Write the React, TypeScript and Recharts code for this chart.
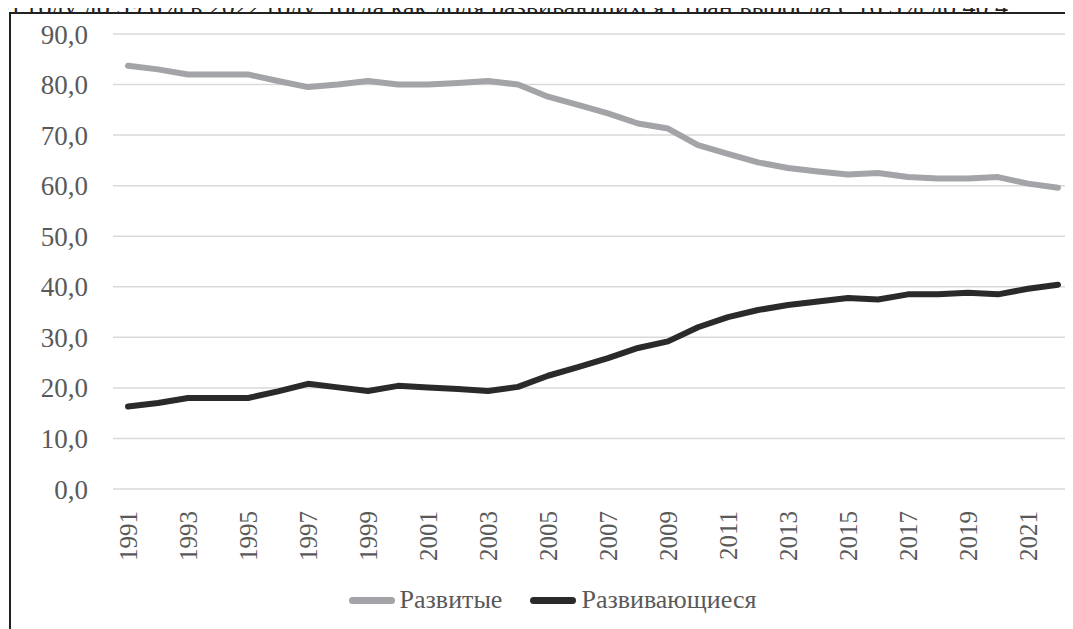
import { LineChart, Line, XAxis, YAxis, CartesianGrid, Legend } from 'recharts'

const years = [
  '1991', '1992', '1993', '1994', '1995', '1996', '1997', '1998', '1999', '2000', '2001',
  '2002', '2003', '2004', '2005', '2006', '2007', '2008', '2009', '2010', '2011', '2012',
  '2013', '2014', '2015', '2016', '2017', '2018', '2019', '2020', '2021', '2022',
]

const developed = [
  83.7, 83.0, 82.0, 82.0, 82.0, 80.7, 79.5, 80.0, 80.7, 80.0, 80.0,
  80.3, 80.7, 80.0, 77.6, 76.0, 74.3, 72.3, 71.3, 68.0, 66.3, 64.6,
  63.5, 62.8, 62.2, 62.5, 61.7, 61.4, 61.4, 61.7, 60.4, 59.6,
]

const developing = [
  16.3, 17.0, 18.0, 18.0, 18.0, 19.3, 20.8, 20.1, 19.4, 20.4, 20.1,
  19.8, 19.4, 20.2, 22.4, 24.1, 25.9, 27.9, 29.2, 32.0, 34.0, 35.4,
  36.4, 37.1, 37.8, 37.5, 38.5, 38.5, 38.8, 38.5, 39.6, 40.4,
]

const yTicks = [0, 10, 20, 30, 40, 50, 60, 70, 80, 90]

const series = [
  { key: 'developed', name: 'Развитые', color: '#a3a4a8' },
  { key: 'developing', name: 'Развивающиеся', color: '#2a2a2a' },
]

const data = years.map((year, i) => ({
  year,
  developed: developed[i],
  developing: developing[i],
}))

const font = '"Liberation Serif", "Times New Roman", serif'
const textColor = '#595959'

function YearTick(props: any) {
  const { x, y, payload } = props
  return (
    <text
      x={x}
      y={y}
      transform={`rotate(-90, ${x}, ${y})`}
      textAnchor="end"
      dy="0.35em"
      fill={textColor}
      fontFamily={font}
      fontSize={25}
    >
      {payload.value}
    </text>
  )
}

function LegendContent() {
  return (
    <div style={{ display: 'flex', alignItems: 'center', justifyContent: 'center', height: 28, fontFamily: font, fontSize: 26, lineHeight: '28px', color: textColor, marginLeft: 32 }}>
      {series.map((s, i) => (
        <div key={s.key} style={{ display: 'flex', alignItems: 'center', marginLeft: i ? 28 : 0 }}>
          <span style={{ display: 'inline-block', width: 46, height: 7, borderRadius: 4, background: s.color, marginRight: 5 }} />
          <span>{s.name}</span>
        </div>
      ))}
    </div>
  )
}

export default function App() {
  return (
    <div style={{ position: 'relative', width: 1073, height: 629, margin: '-8px 0 0 -8px', overflow: 'hidden', background: '#fff' }}>
      <div
        style={{
          position: 'absolute', left: -4, top: -6, whiteSpace: 'nowrap',
          fontFamily: font, fontSize: 26, lineHeight: '26px', color: '#222',
        }}
      >
        91 году до 59,6% в 2022 году, тогда как доля развивающихся стран  выросла с 16,3% до 40,4.
      </div>
      <div
        style={{
          position: 'absolute', left: 9, top: 12, width: 1200, height: 800,
          border: '2px solid #222', boxSizing: 'border-box', background: '#fff',
        }}
      />
      <div style={{ position: 'absolute', left: 0, top: 0 }}>
        <LineChart width={1073} height={629} data={data} margin={{ top: 34, right: 0, bottom: 15, left: 0 }}>
          <CartesianGrid vertical={false} stroke="#d9d9d9" strokeWidth={1.5} />
          <XAxis
            dataKey="year"
            interval={1}
            padding={{ left: 15, right: 15 }}
            axisLine={false}
            tickLine={false}
            tick={<YearTick />}
            tickSize={0}
            tickMargin={22}
            height={97}
          />
          <YAxis
            domain={[0, 90]}
            ticks={yTicks}
            tickFormatter={(v: number) => v.toFixed(1).replace('.', ',')}
            axisLine={false}
            tickLine={false}
            tickSize={0}
            tickMargin={25}
            width={113}
            tick={{ fill: textColor, fontFamily: font, fontSize: 27 }}
          />
          <Legend verticalAlign="bottom" content={<LegendContent />} />
          {series.map((s) => (
            <Line
              key={s.key}
              type="linear"
              dataKey={s.key}
              name={s.name}
              stroke={s.color}
              strokeWidth={6}
              strokeLinecap="round"
              strokeLinejoin="round"
              dot={false}
              isAnimationActive={false}
            />
          ))}
        </LineChart>
      </div>
    </div>
  )
}
